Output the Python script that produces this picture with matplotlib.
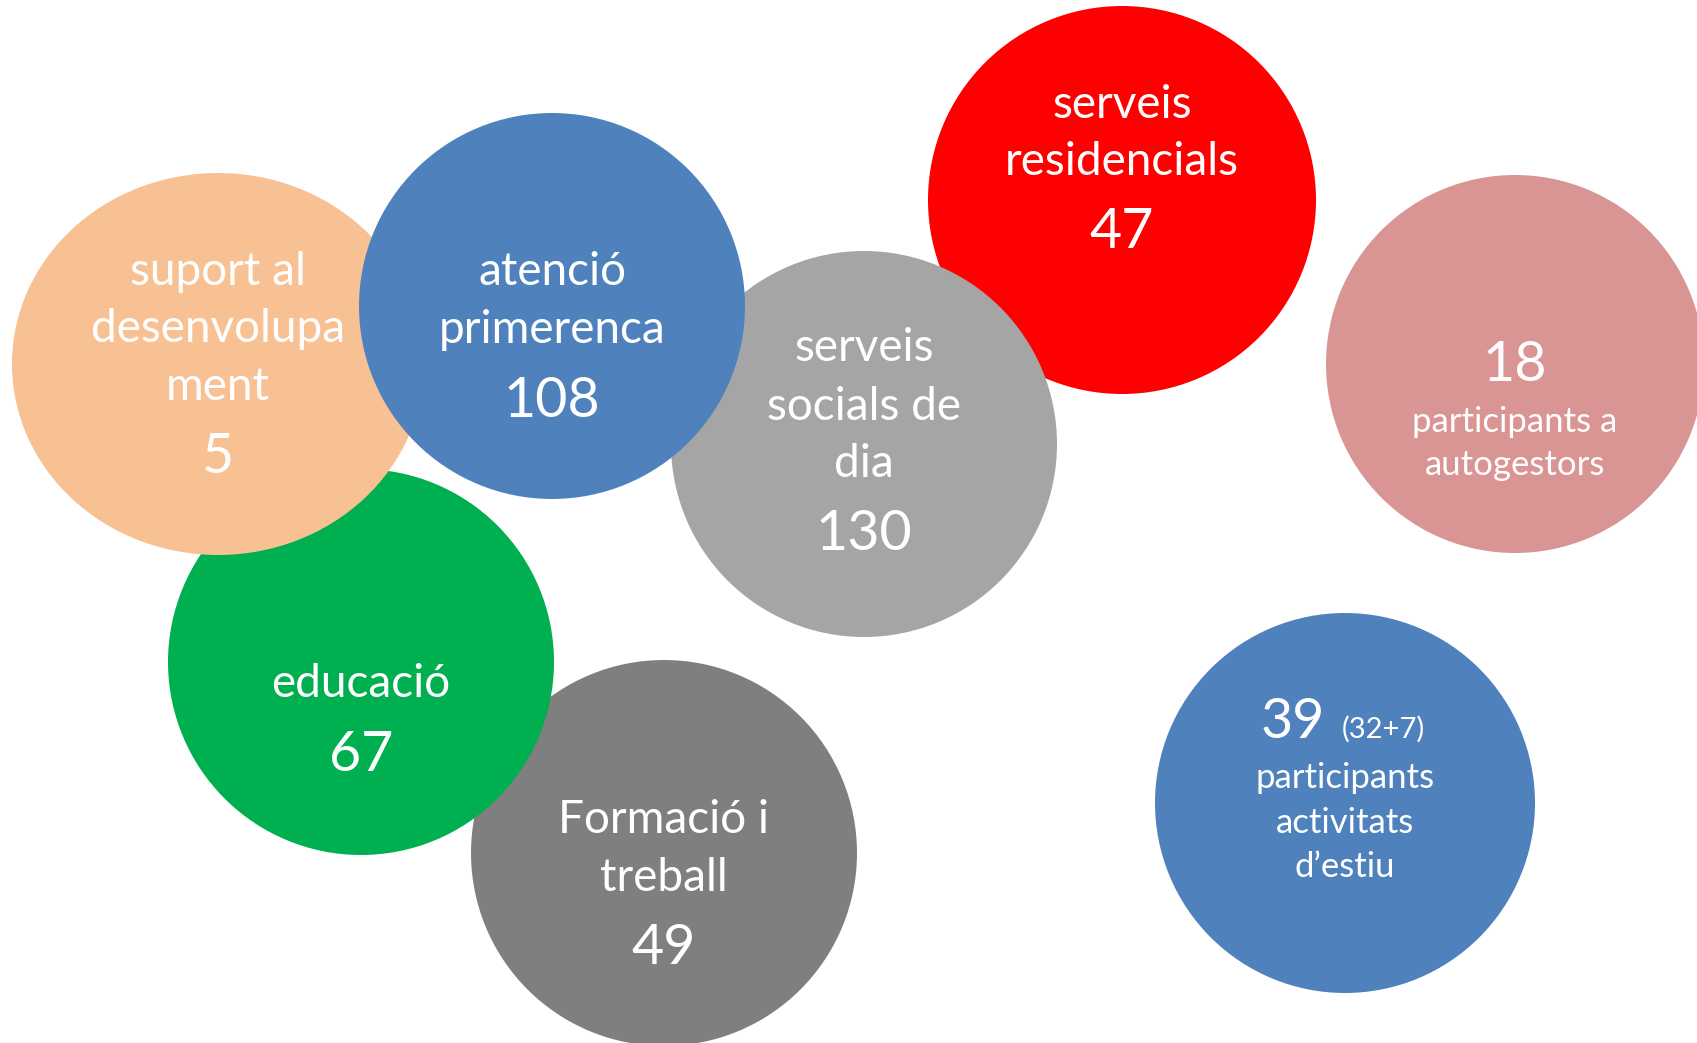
import matplotlib
matplotlib.use("Agg")
import matplotlib.pyplot as plt
from matplotlib.patches import Ellipse

plt.rcParams['font.family'] = ['Lato', 'DejaVu Sans']

# data
labels = [
    ["serveis", "residencials"],
    ["serveis", "socials de", "dia"],
    ["Formació i", "treball"],
    ["educació"],
    ["suport al", "desenvolupa", "ment"],
    ["atenció", "primerenca"],
]
values = [47, 130, 49, 67, 5, 108]

auto_value = 18
auto_label = ["participants a", "autogestors"]
estiu_value = 39
estiu_detail = "(32+7)"
estiu_label = ["participants", "activitats", "d\u2019estiu"]

# layout (pixels, y down), drawn bottom to top
cx = [1122, 864, 664, 361, 218, 552]
cy = [200, 444, 853, 662, 364, 306]
rx = [194, 193, 193, 193, 206, 193]
ry = [194, 193, 193, 193, 191, 193]
colors = ["#FF0000", "#A5A5A5", "#7F7F7F", "#00B050", "#F8C193", "#4F81BD"]
line_y = [
    [118, 175, 248],
    [361, 420, 477, 550],
    [833, 891, 964],
    [697, 771],
    [285, 342, 400, 473],
    [285, 343, 417],
]

fig = plt.figure(figsize=(16.97, 10.43), dpi=100)
ax = fig.add_axes([0, 0, 1, 1])
ax.set_xlim(0, 1697)
ax.set_ylim(1043, 0)
ax.set_aspect('equal')
ax.axis('off')

for i in range(len(values)):
    ax.add_patch(Ellipse((cx[i], cy[i]), 2 * rx[i], 2 * ry[i], color=colors[i], lw=0))
    ys = line_y[i]
    for txt, y in zip(labels[i], ys[:-1]):
        ax.text(cx[i], y, txt, color='white', fontsize=33, ha='center', va='baseline')
    ax.text(cx[i], ys[-1], str(values[i]), color='white', fontsize=40, ha='center', va='baseline')

# autogestors circle
ax.add_patch(Ellipse((1515, 364), 378, 378, color="#D99594", lw=0))
ax.text(1515, 381, str(auto_value), color='white', fontsize=40, ha='center', va='baseline')
for txt, y in zip(auto_label, [432, 475]):
    ax.text(1515, y, txt, color='white', fontsize=25, ha='center', va='baseline')

# activitats d'estiu circle
ax.add_patch(Ellipse((1345, 803), 380, 380, color="#4F81BD", lw=0))
ax.text(1325, 738, str(estiu_value), color='white', fontsize=40, ha='right', va='baseline')
ax.text(1342, 738, estiu_detail, color='white', fontsize=21, ha='left', va='baseline')
for txt, y in zip(estiu_label, [788, 833, 877]):
    ax.text(1345, y, txt, color='white', fontsize=25, ha='center', va='baseline')

fig.savefig("out.png", dpi=100, facecolor='white')
